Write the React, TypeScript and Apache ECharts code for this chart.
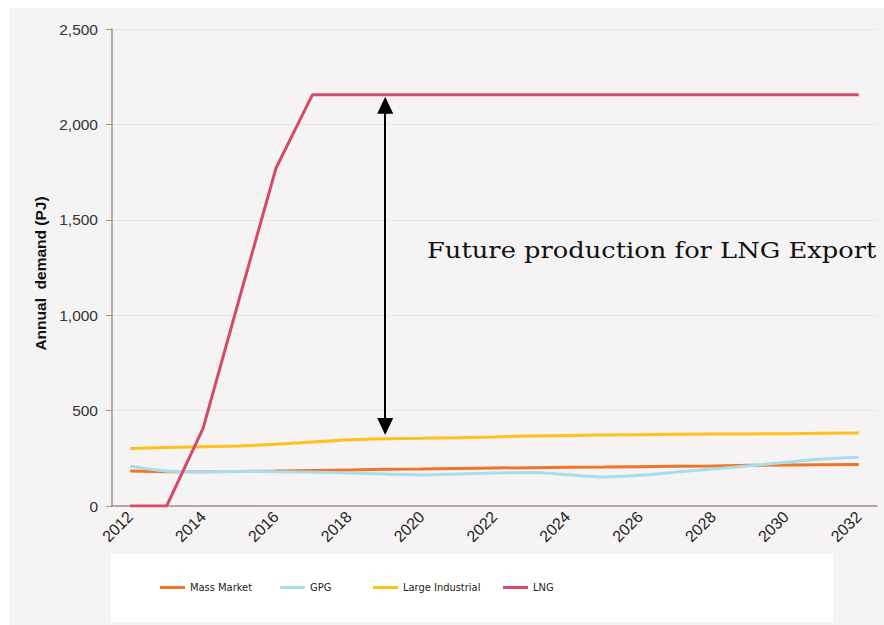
import React, { useEffect, useRef } from "react";
import * as echarts from "echarts";

// Annual gas demand by sector, PJ
const years = [
  "2012", "2013", "2014", "2015", "2016", "2017", "2018", "2019", "2020", "2021", "2022",
  "2023", "2024", "2025", "2026", "2027", "2028", "2029", "2030", "2031", "2032",
];
const massMarket = [183, 180, 180, 181, 183, 186, 189, 192, 194, 197, 199, 201, 203, 204, 206, 208, 210, 213, 215, 216, 217];
const gpg = [208, 183, 180, 181, 180, 177, 173, 168, 162, 168, 173, 175, 164, 152, 161, 178, 194, 211, 229, 246, 255];
const largeIndustrial = [301, 306, 311, 315, 323, 335, 347, 353, 355, 358, 362, 367, 370, 372, 374, 376, 377, 378, 379, 381, 383];
const lng = [0, 0, 407, 1090, 1770, 2155, 2155, 2155, 2155, 2155, 2155, 2155, 2155, 2155, 2155, 2155, 2155, 2155, 2155, 2155, 2155];

const seriesNames = ["Mass Market", "GPG", "Large Industrial", "LNG"];
const seriesColors = ["#F47324", "#A9DDEC", "#FFC01E", "#D54B67"];
const legendLefts = [160, 280, 373, 503];

// Gap annotation between LNG and domestic demand (arrow shaft end points)
const gapYear = "2019";
const gapTop = 2100;
const gapBottom = 417;
const gapText = "Future production for LNG Export";

const axisColor = "#9D9486";
const labelFont = '"Liberation Sans", Arial, sans-serif';

export default function App() {
  const ref = useRef<HTMLDivElement>(null);

  useEffect(() => {
    if (!ref.current) return;
    const chart = echarts.init(ref.current, undefined, { renderer: "svg" });
    const dataSets = [massMarket, gpg, largeIndustrial, lng];

    chart.setOption({
      animation: false,
      backgroundColor: "#ffffff",
      graphic: [
        {
          type: "rect",
          z: -10,
          shape: { x: 9, y: 8, width: 875, height: 617 },
          style: { fill: "#F5F3F4" },
          silent: true,
        },
        {
          type: "rect",
          z: -5,
          shape: { x: 111, y: 554, width: 722, height: 68 },
          style: { fill: "#ffffff" },
          silent: true,
        },
        {
          type: "text",
          x: 427,
          y: 251,
          scaleX: 1.17,
          z: 20,
          style: {
            text: gapText,
            font: '22px "DejaVu Serif", serif',
            fill: "#111111",
            verticalAlign: "middle",
            align: "left",
          },
          silent: true,
        },
      ],
      legend: seriesNames.map((name, i) => ({
        data: [name],
        left: legendLefts[i],
        top: 582,
        icon: "rect",
        itemWidth: 25,
        itemHeight: 3,
        padding: 0,
        textStyle: {
          fontFamily: '"DejaVu Sans Condensed", sans-serif',
          fontSize: 11,
          color: "#222222",
        },
      })),
      grid: { left: 112, right: 7, top: 29, bottom: 119, containLabel: false },
      xAxis: {
        type: "category",
        data: years,
        boundaryGap: true,
        axisLine: { lineStyle: { color: axisColor, width: 1.5 } },
        axisTick: { interval: 0, length: 5, lineStyle: { color: axisColor } },
        axisLabel: {
          interval: 1,
          rotate: 45,
          margin: 8,
          fontFamily: labelFont,
          fontSize: 16,
          color: "#222222",
        },
        splitLine: { show: false },
      },
      yAxis: {
        type: "value",
        min: 0,
        max: 2500,
        interval: 500,
        name: "Annual  demand (PJ)",
        nameLocation: "middle",
        nameGap: 59,
        nameTextStyle: {
          fontFamily: labelFont,
          fontWeight: "bold",
          fontSize: 15.5,
          color: "#111111",
          padding: [0, 12, 0, 0],
        },
        axisLine: { show: true, lineStyle: { color: axisColor, width: 1.5 } },
        axisTick: { show: true, length: 6, lineStyle: { color: axisColor } },
        axisLabel: {
          margin: 14,
          fontFamily: labelFont,
          fontSize: 15.5,
          color: "#333333",
          formatter: (v: number) => v.toLocaleString("en-US"),
        },
        splitLine: { lineStyle: { color: "#E8E6E0", width: 1 } },
      },
      series: seriesNames.map((name, i) => ({
        name,
        type: "line",
        data: dataSets[i],
        symbol: "none",
        smooth: name === "GPG" ? 0.25 : false,
        lineStyle: { color: seriesColors[i], width: 3 },
        itemStyle: { color: seriesColors[i] },
        z: 2 + i,
        markLine:
          name === "LNG"
            ? {
                silent: true,
                symbol: ["triangle", "triangle"],
                symbolSize: [16, 17],
                lineStyle: { color: "#000000", width: 2, type: "solid" },
                label: { show: false },
                emphasis: { disabled: true },
                data: [[{ coord: [gapYear, gapTop] }, { coord: [gapYear, gapBottom] }]],
              }
            : undefined,
      })),
    });

    return () => chart.dispose();
  }, []);

  return (
    <div
      ref={ref}
      style={{ position: "absolute", left: 0, top: 0, width: 884, height: 625 }}
    />
  );
}
